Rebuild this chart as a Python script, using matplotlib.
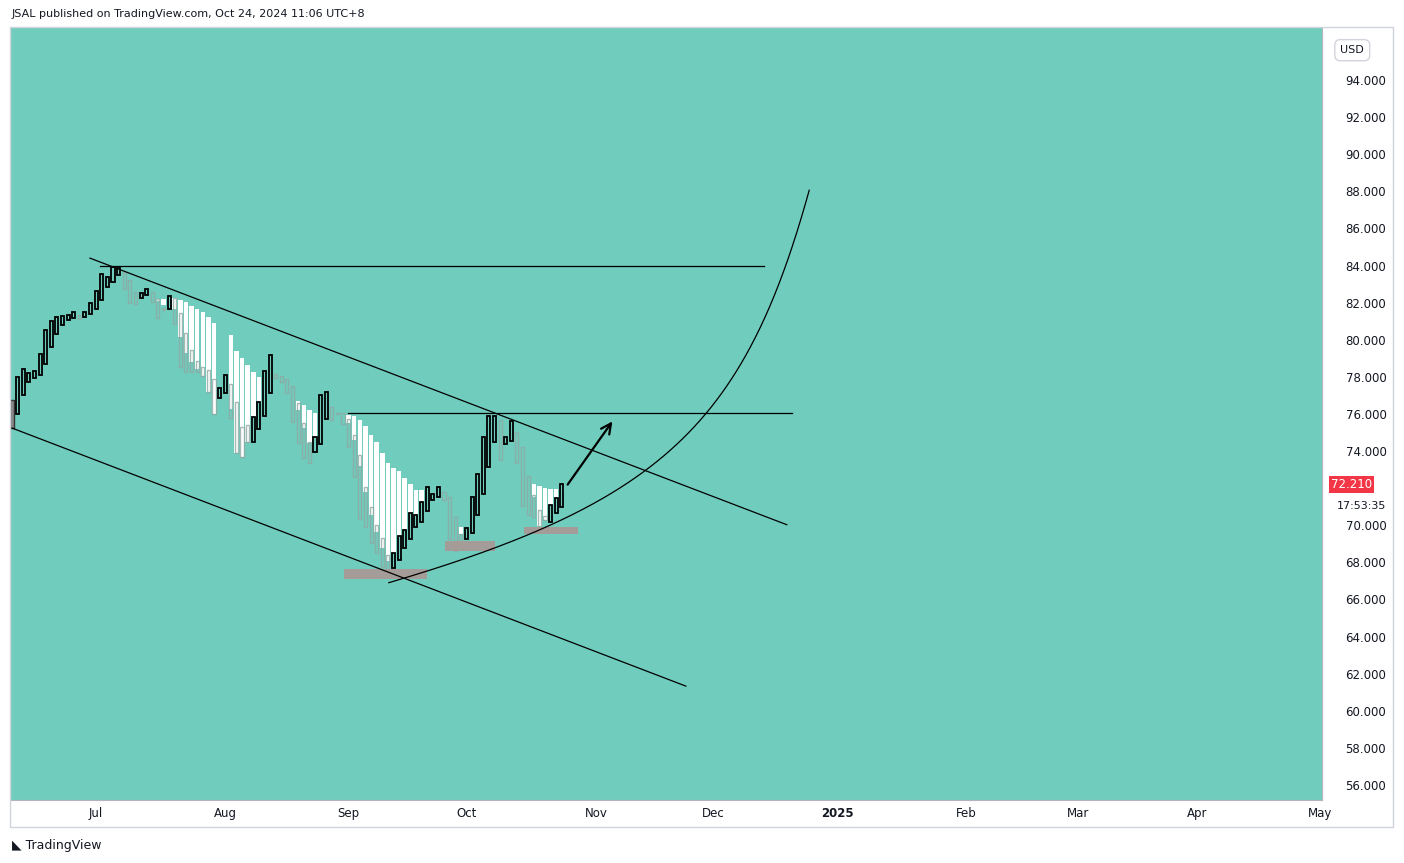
import numpy as np
import matplotlib
matplotlib.use("Agg")
import matplotlib.pyplot as plt
from matplotlib.patches import Rectangle

opens = [76.75,75.99,77.02,77.72,77.93,78.10,78.69,79.61,80.31,80.79,81.06,81.17,81.33,81.22,81.39,81.65,82.14,82.84,83.11,83.49,
         83.65,83.22,82.57,82.25,82.41,82.57,82.19,81.71,81.65,82.25,81.44,80.36,79.45,78.85,78.53,78.37,77.88,76.86,77.13,77.61,
         76.64,75.29,75.40,74.49,75.18,75.89,77.13,78.15,78.04,77.88,77.50,76.59,75.51,74.49,73.95,74.38,75.72,76.37,76.05,76.05,
         75.72,74.86,73.79,72.07,71.00,70.03,69.33,68.41,67.71,68.14,68.79,69.27,69.92,70.19,70.78,71.38,71.53,71.80,71.53,70.46,
         69.54,69.27,69.60,70.57,71.69,73.14,74.49,75.67,74.38,74.54,75.02,74.22,72.66,71.64,70.84,70.51,70.19,70.68,71.00]
closes = [75.24,77.99,78.42,78.21,78.31,79.23,80.52,81.01,81.22,81.28,81.33,81.49,81.12,81.49,81.98,82.63,83.54,83.38,83.92,83.86,
          82.73,81.98,81.92,82.52,82.73,82.03,81.17,81.60,82.36,80.85,78.53,78.26,78.26,78.26,78.04,77.18,75.99,77.40,78.10,75.78,
          73.89,73.68,74.49,75.83,76.64,78.31,79.18,77.93,77.72,77.13,75.56,74.43,73.63,73.36,74.76,77.02,77.18,75.67,75.99,75.45,
          74.22,72.61,70.35,69.92,69.06,68.52,67.76,67.23,68.52,69.44,69.76,70.68,70.57,71.27,72.07,71.69,72.07,71.38,69.27,68.63,
          69.00,69.87,71.53,72.77,74.76,75.89,75.89,73.52,74.76,75.62,73.36,71.05,70.57,70.46,69.92,70.30,71.11,71.48,72.21]
# white overlay bands: bar index, top, bottom
band_idx = [26,27,29,30,31,32,33,34,35,36,39,40,41,42,43,44,51,52,53,54,60,61,62,63,64,65,66,67,68,69,70,71,72,73,80,93,94,95,96,97,98]
band_top = [82.19,82.19,82.25,82.14,82.03,81.82,81.65,81.49,81.22,80.90,80.25,79.39,79.01,78.64,78.26,77.99,76.70,76.48,76.21,76.05,
            75.94,75.89,75.67,75.35,74.86,74.49,73.89,73.36,73.09,72.93,72.55,72.23,71.91,71.91,69.92,72.23,72.12,72.01,71.96,71.96,72.12]
band_bot = [82.08,81.87,81.65,80.14,79.28,78.80,78.42,78.04,77.18,75.99,76.27,73.89,73.68,74.49,75.83,76.64,76.21,75.24,74.43,74.76,
            75.51,74.59,73.19,71.80,70.57,69.64,68.79,68.07,68.52,69.44,69.76,70.68,70.57,71.27,69.54,71.53,69.98,70.30,71.11,71.48,71.80]
tick_pos = [14.97,37.97,59.9,81.1,104.1,124.96,147.06,170.05,190.0,211.2,233.2]
tick_labels = ["Jul","Aug","Sep","Oct","Nov","Dec","2025","Feb","Mar","Apr","May"]
price_ticks = list(range(56, 96, 2))
last_price = 72.21

# drawings
chan_top = ([13.9, 138.1], [84.40, 70.03])
chan_bot = ([0.0, 120.1], [75.24, 61.33])
hline84 = ([15.7, 134.0], [83.95, 83.95])
hline76 = ([59.9, 139.0], [76.05, 76.05])
arrow = ((98.75, 72.07), (107.3, 75.72))
curve_x = [67.0, 81.6, 91.1, 103.0, 111.9, 119.1, 123.5, 129.8, 135.1, 138.7, 141.9]
curve_y = [67.10, 68.07, 69.15, 71.00, 72.98, 74.86, 76.05, 78.37, 81.60, 84.57, 88.07]
zones = [(59.2, 74.0, 67.10, 67.64), (77.2, 86.1, 68.63, 69.15), (91.3, 100.9, 69.54, 69.92)]

BG = "#70ccbd"
YMIN, YMAX = 55.19, 96.86
fig = plt.figure(figsize=(14.04, 8.63), dpi=100)
W, H = 1404, 863
ax = fig.add_axes([10/W, (H-800)/H, (1322-10)/W, (800-27)/H])
ax.set_facecolor(BG)
ax.set_xlim(-0.36, 233.5)
ax.set_ylim(YMIN, YMAX)

n = len(opens)
bw = 0.55
for i, t, b in zip(band_idx, band_top, band_bot):
    ax.add_patch(Rectangle((i - 0.4, b), 0.8, t - b, facecolor="white", edgecolor="none", zorder=2))
for i in range(n):
    o, c = opens[i], closes[i]
    lo, hi = min(o, c), max(o, c)
    if i == 0:
        ax.add_patch(Rectangle((i - bw/2, lo), bw, hi - lo, facecolor="#8a8a8a", edgecolor="#333333", lw=1, zorder=3))
    elif c >= o:
        ax.add_patch(Rectangle((i - bw/2, lo), bw, hi - lo, facecolor=BG, edgecolor="black", lw=1.3, zorder=4))
    else:
        ax.add_patch(Rectangle((i - bw/2, lo), bw, hi - lo, facecolor="none", edgecolor="#8fa8a3", lw=1.0, alpha=0.8, zorder=3))

for xs, ys in (chan_top, chan_bot, hline84, hline76):
    ax.plot(xs, ys, color="black", lw=0.9, zorder=5)
t = np.arange(len(curve_x))
cx_c = np.polyfit(t, curve_x, 3)
cy_c = np.polyfit(t, curve_y, 3)
tt = np.linspace(0, len(curve_x) - 1, 300)
ax.plot(np.polyval(cx_c, tt), np.polyval(cy_c, tt), color="black", lw=0.9, zorder=5)
ax.annotate("", xy=arrow[1], xytext=arrow[0],
            arrowprops=dict(arrowstyle="->", color="black", lw=1.6, mutation_scale=18), zorder=6)
for x0, x1, y0, y1 in zones:
    ax.add_patch(Rectangle((x0, y0), x1 - x0, y1 - y0, facecolor="#a89a96", edgecolor="none", alpha=0.95, zorder=4))

ax.yaxis.tick_right()
ax.set_yticks(price_ticks)
ax.set_yticklabels([f"{p:.3f}" if p != 72 else "" for p in price_ticks], fontsize=8.5, color="#131722")
ax.set_xticks(tick_pos)
ax.set_xticklabels(tick_labels, fontsize=8.5, color="#131722")
for lab in ax.get_xticklabels():
    if lab.get_text() == "2025":
        lab.set_fontweight("bold")
ax.tick_params(axis="x", length=0, pad=5)
ax.tick_params(axis="y", length=0, pad=17)
for s in ["top", "left"]:
    ax.spines[s].set_visible(False)
ax.spines["right"].set_color("#b2b5be")
ax.spines["bottom"].set_color("#b2b5be")

ly = (last_price - YMIN) / (YMAX - YMIN)
ax.text(1.007, ly, f"{last_price:.3f}", transform=ax.transAxes,
        fontsize=8.5, color="white", va="center", ha="left",
        bbox=dict(boxstyle="square,pad=0.15", fc="#f23645", ec="none"), zorder=10)
ax.text(1.011, ly - 0.028, "17:53:35", transform=ax.transAxes,
        fontsize=8, color="#131722", va="center", ha="left", zorder=10)
ax.text(1.014, 0.97, "USD", transform=ax.transAxes, fontsize=8, color="#131722", va="center", ha="left",
        bbox=dict(boxstyle="round,pad=0.5", fc="white", ec="#d1d4dc"))

fig.add_artist(Rectangle((10/W, (H-827)/H), (1393-10)/W, (827-27)/H, transform=fig.transFigure,
                         fill=False, edgecolor="#d1d4dc", lw=1))
fig.text(12/W, 1 - 14/H, "JSAL published on TradingView.com, Oct 24, 2024 11:06 UTC+8",
         fontsize=8, color="#131722", va="center", ha="left")
fig.text(12/W, 1 - 845/H, "\u25e3 TradingView", fontsize=9, color="#131722", va="center", ha="left")

fig.savefig("out.png", dpi=100)
